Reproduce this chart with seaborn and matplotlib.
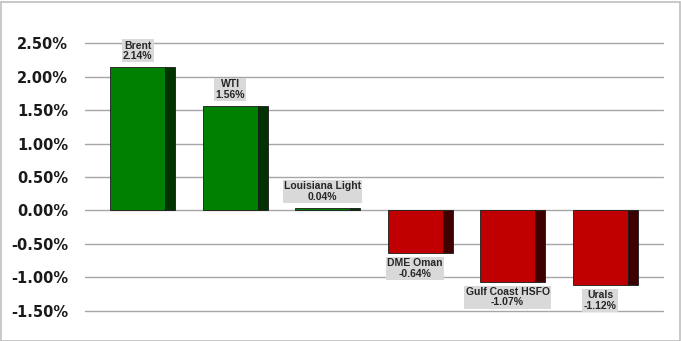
import matplotlib
matplotlib.use("Agg")
import matplotlib.pyplot as plt
import seaborn as sns
import pandas as pd
from matplotlib.patches import Rectangle

categories = ["Brent", "WTI", "Louisiana Light", "DME Oman", "Gulf Coast HSFO", "Urals"]
values = [2.14, 1.56, 0.04, -0.64, -1.07, -1.12]
yticks = [-1.5, -1.0, -0.5, 0.0, 0.5, 1.0, 1.5, 2.0, 2.5]

front_pos, side_pos = "#008000", "#003300"
front_neg, side_neg = "#C00000", "#3F0000"

df = pd.DataFrame({"cat": categories, "val": values})
front_colors = [front_pos if v >= 0 else front_neg for v in values]
side_colors = [side_pos if v >= 0 else side_neg for v in values]

sns.set_theme(style="white")
plt.rcParams["font.family"] = ["DejaVu Sans"]

fig = plt.figure(figsize=(6.81, 3.41), dpi=100)
ax = fig.add_axes([85 / 681, 1 - 311.5 / 341, 578 / 681, 269 / 341])

sns.barplot(data=df, x="cat", y="val", hue="cat", palette=front_colors, legend=False,
            saturation=1, width=0.594, ax=ax, linewidth=0.6, edgecolor="#1a1a1a", zorder=3)

side_w = 0.108
for p, sc in zip(ax.patches, side_colors):
    x0 = p.get_x() + p.get_width()
    ax.add_patch(Rectangle((x0, p.get_y()), side_w, p.get_height(), facecolor=sc,
                           edgecolor="#1a1a1a", linewidth=0.6, zorder=3))

for i, (c, v) in enumerate(zip(categories, values)):
    txt = f"{c}\n{v:.2f}%"
    off = 4.5 if v >= 0 else -3.5
    ax.annotate(txt, (i, v), xytext=(0, off), textcoords="offset points",
                ha="center", va="bottom" if v >= 0 else "top", fontsize=7.5,
                fontweight="bold", family=["Liberation Sans", "DejaVu Sans"],
                linespacing=1.05, zorder=5,
                bbox=dict(boxstyle="square,pad=0.12", facecolor="#D9D9D9", edgecolor="none"))

ax.set_xlim(-0.568, 5.68)
ax.set_ylim(-1.51, 2.51)
ax.set_yticks(yticks)
ax.set_yticklabels([f"{t:.2f}%" for t in yticks], fontsize=10.5, fontweight="bold", color="#1a1a1a")
ax.set_xticks([])
ax.set_xlabel("")
ax.set_ylabel("")
ax.tick_params(axis="y", length=0, pad=12)
ax.grid(axis="y", color="#A6A6A6", linewidth=1.0, zorder=0)
for gl in ax.get_ygridlines():
    gl.set_clip_on(False)
ax.set_axisbelow(True)
for s in ax.spines.values():
    s.set_visible(False)

fig.patches.append(Rectangle((0.5 / 681, 0.5 / 341), 679 / 681, 339 / 341, transform=fig.transFigure,
                             fill=False, edgecolor="#BFBFBF", linewidth=1.2))

fig.savefig("out.png", dpi=100)
